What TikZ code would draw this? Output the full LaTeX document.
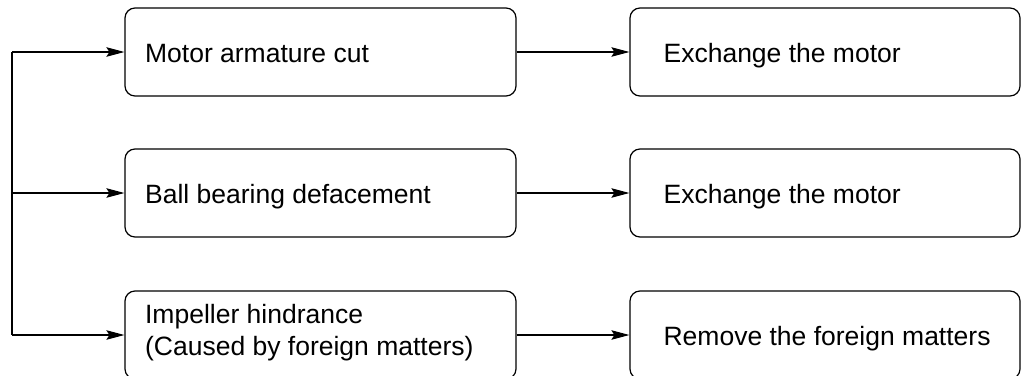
\documentclass[tikz,border=0pt]{standalone}
\usepackage{fontspec}
\setmainfont{Liberation Sans}
\usetikzlibrary{arrows.meta}
\tikzset{
  box/.style={draw=black, line width=1.2pt, rounded corners=10pt, inner sep=0pt, minimum height=88pt},
  leftbox/.style={box, minimum width=391pt},
  rightbox/.style={box, minimum width=390pt},
  boxtext/.style={inner sep=0pt, font=\fontsize{26.5}{32}\selectfont, align=left},
  conn/.style={line width=1.2pt},
  arr/.style={conn, -{Stealth[length=18pt, width=9.5pt, inset=3pt]}}
}
\begin{document}
\begin{tikzpicture}[x=1pt, y=-1pt]
\useasboundingbox (0,0) rectangle (1022,375);
% boxes
\node[leftbox] (l1) at (320.5,52) {};
\node[leftbox] (l2) at (320.5,193) {};
\node[leftbox] (l3) at (320.5,335) {};
\node[rightbox] (r1) at (825,52) {};
\node[rightbox] (r2) at (825,193) {};
\node[rightbox] (r3) at (825,335) {};
% texts
\node[boxtext, anchor=base west] (l1t) at ([xshift=20.5pt, yshift=-10pt]l1.west) {Motor armature cut};
\node[boxtext, anchor=base west] (l2t) at ([xshift=20.5pt, yshift=-10pt]l2.west) {Ball bearing defacement};
\node[boxtext, anchor=west] (l3t) at ([xshift=20.5pt, yshift=2pt]l3.west) {Impeller hindrance\\(Caused by foreign matters)};
\node[boxtext, anchor=base west] (r1t) at ([xshift=34pt, yshift=-10pt]r1.west) {Exchange the motor};
\node[boxtext, anchor=base west] (r2t) at ([xshift=34pt, yshift=-10pt]r2.west) {Exchange the motor};
\node[boxtext, anchor=base west] (r3t) at ([xshift=34pt, yshift=-10pt]r3.west) {Remove the foreign matters};
% trunk
\coordinate (t1) at (12,52);
\coordinate (t2) at (12,193);
\coordinate (t3) at (12,335);
\draw[conn] (t1) -- (t3);
\draw[arr] (t1) -- (l1.west);
\draw[arr] (t2) -- (l2.west);
\draw[arr] (t3) -- (l3.west);
% right connectors
\draw[arr] (l1.east) -- (r1.west);
\draw[arr] (l2.east) -- (r2.west);
\draw[arr] (l3.east) -- (r3.west);
\end{tikzpicture}
\end{document}
